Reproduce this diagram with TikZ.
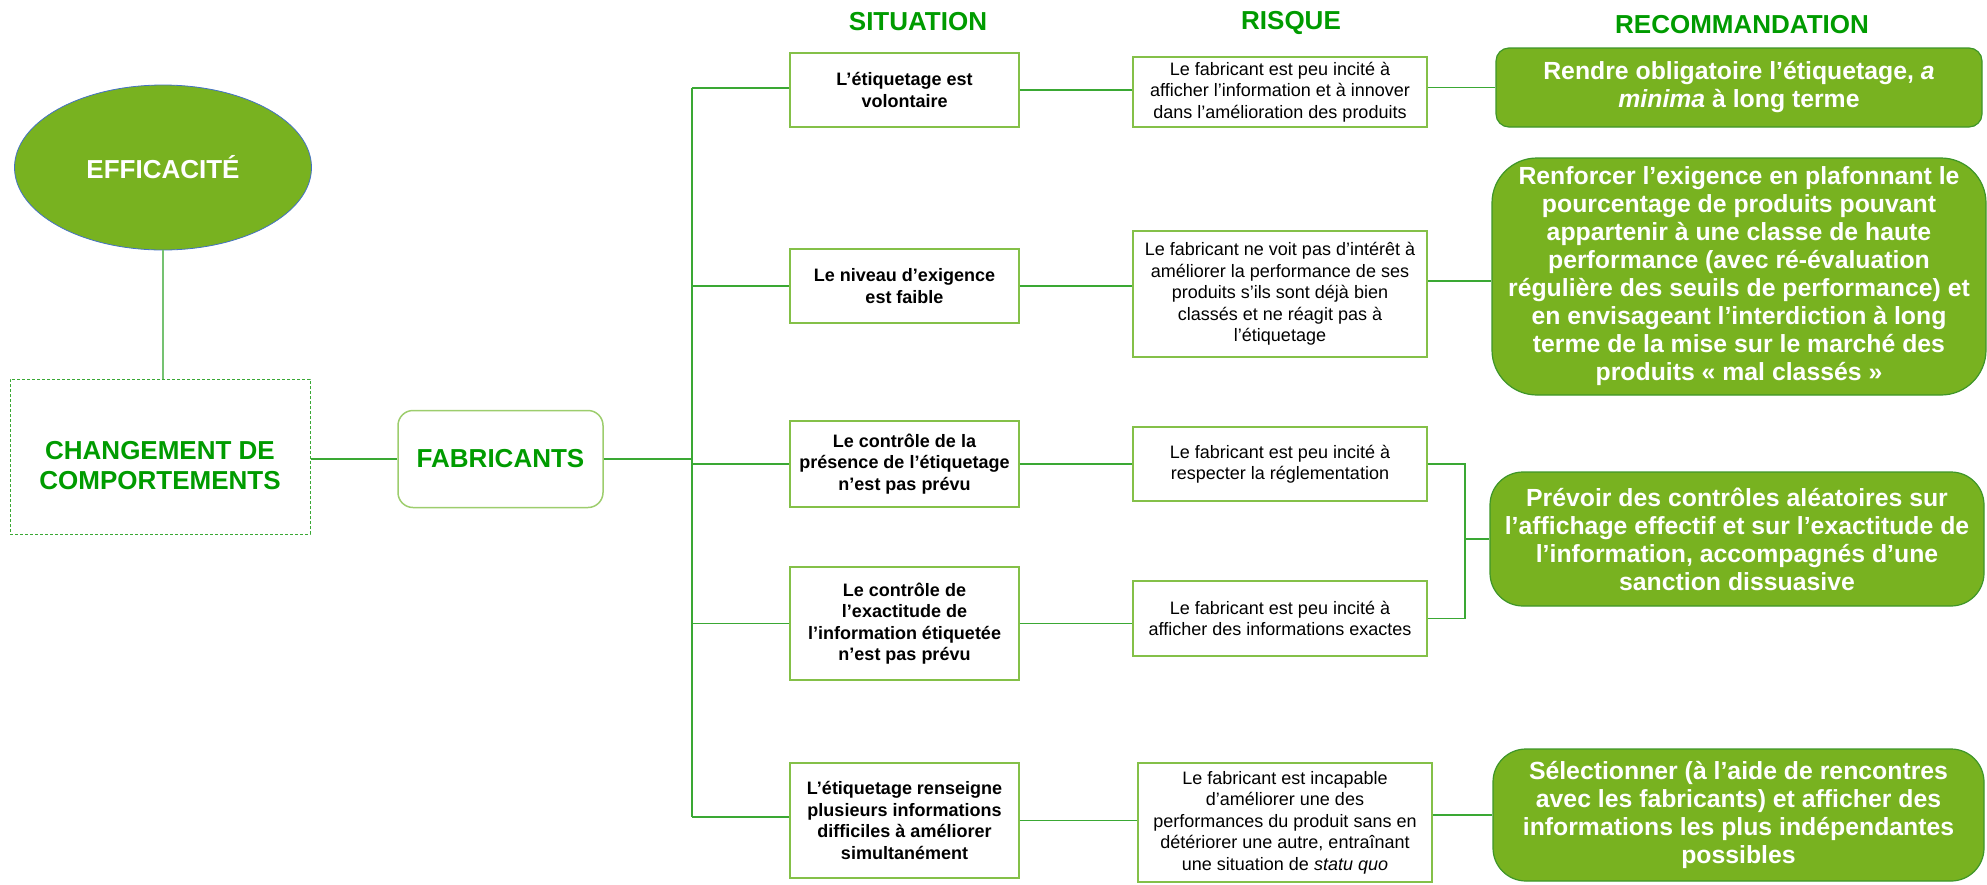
\documentclass[tikz,border=0pt]{standalone}
\usepackage{fontspec}
\setmainfont{Liberation Sans}
\usetikzlibrary{shapes.geometric}

\definecolor{hdrgreen}{RGB}{0,155,0}
\definecolor{recfill}{RGB}{120,178,32}
\definecolor{recline}{RGB}{62,150,40}
\definecolor{boxline}{RGB}{132,192,72}
\definecolor{connline}{RGB}{58,168,52}
\definecolor{ellblue}{RGB}{68,114,196}

\begin{document}
\begin{tikzpicture}[x=1pt,y=-1pt,
  hdr/.style={text=hdrgreen,font=\bfseries\fontsize{26}{30}\selectfont,align=center,inner sep=0},
  sitbox/.style={draw=boxline,line width=1.5pt,fill=white,inner sep=0,align=center,
    minimum width=229,font=\bfseries\fontsize{18}{21.5}\selectfont},
  riskbox/.style={draw=boxline,line width=1.5pt,fill=white,inner sep=0,align=center,
    font=\fontsize{18}{21.5}\selectfont},
  recbox/.style={draw=recline,line width=1.2pt,fill=recfill,inner sep=0,align=center,
    text=white,font=\bfseries\fontsize{24.8}{28}\selectfont},
  conn/.style={draw=connline,line width=1.5pt}
]
\useasboundingbox (0,0) rectangle (1987,884);

% column headers
\node[hdr] (hsit) at (918,22) {SITUATION};
\node[hdr] (hrisk) at (1291,23) {RISQUE};
\node[hdr] (hrec) at (1742,24.5) {RECOMMANDATION};

% left part
\node[ellipse,fill=recfill,draw=ellblue,line width=0.8pt,minimum width=297,minimum height=165,
  inner sep=0,text=white,font=\bfseries\fontsize{26}{30}\selectfont] (eff) at (163,167.5) {EFFICACITÉ};
\node[draw=connline,line width=1pt,dash pattern=on 3pt off 2pt,minimum width=300,minimum height=155,
  inner sep=0] (chg) at (160,456.5) {};
\node[align=center,inner sep=0,text=hdrgreen,font=\bfseries\fontsize{26}{30}\selectfont]
  (chgtxt) at (160,465.5) {CHANGEMENT DE\\COMPORTEMENTS};
\node[draw=boxline!80,line width=1.5pt,rounded corners=15pt,minimum width=205,minimum height=97,
  inner sep=0,text=hdrgreen,font=\bfseries\fontsize{26}{30}\selectfont] (fab) at (500.5,459) {FABRICANTS};

% situations
\node[sitbox,minimum height=74] (sit1) at (904.5,90) {L’étiquetage est\\volontaire};
\node[sitbox,minimum height=74] (sit2) at (904.5,286) {Le niveau d’exigence\\est faible};
\node[sitbox,minimum height=86] (sit3) at (904.5,464) {Le contrôle de la\\présence de l’étiquetage\\n’est pas prévu};
\node[sitbox,minimum height=113] (sit4) at (904.5,623.5) {Le contrôle de\\l’exactitude de\\l’information étiquetée\\n’est pas prévu};
\node[sitbox,minimum height=115] (sit5) at (904.5,820.5) {L’étiquetage renseigne\\plusieurs informations\\difficiles à améliorer\\simultanément};

% risks
\node[riskbox,minimum width=294,minimum height=70] (risk1) at (1280,92)
  {Le fabricant est peu incité à\\afficher l’information et à innover\\dans l’amélioration des produits};
\node[riskbox,minimum width=294,minimum height=126] (risk2) at (1280,294)
  {Le fabricant ne voit pas d’intérêt à\\améliorer la performance de ses\\produits s’ils sont déjà bien\\classés et ne réagit pas à\\l’étiquetage};
\node[riskbox,minimum width=294,minimum height=74] (risk3) at (1280,464)
  {Le fabricant est peu incité à\\respecter la réglementation};
\node[riskbox,minimum width=294,minimum height=75] (risk4) at (1280,618.5)
  {Le fabricant est peu incité à\\afficher des informations exactes};
\node[riskbox,minimum width=294,minimum height=119] (risk5) at (1285,822.5)
  {Le fabricant est incapable\\d’améliorer une des\\performances du produit sans en\\détériorer une autre, entraînant\\une situation de \textit{statu quo}};

% recommendations
\node[recbox,rounded corners=13pt,minimum width=486,minimum height=79] (rec1) at (1739,87.5)
  {Rendre obligatoire l’étiquetage, \textit{a}\\\textit{minima} à long terme};
\node[recbox,rounded corners=45pt,minimum width=494,minimum height=237] (rec2) at (1739,276.5)
  {Renforcer l’exigence en plafonnant le\\pourcentage de produits pouvant\\appartenir à une classe de haute\\performance (avec ré-évaluation\\régulière des seuils de performance) et\\en envisageant l’interdiction à long\\terme de la mise sur le marché des\\produits « mal classés »};
\node[recbox,rounded corners=33pt,minimum width=494,minimum height=134] (rec3) at (1737,539)
  {Prévoir des contrôles aléatoires sur\\l’affichage effectif et sur l’exactitude de\\l’information, accompagnés d’une\\sanction dissuasive};
\node[recbox,rounded corners=33pt,minimum width=491,minimum height=132] (rec4) at (1738.5,815)
  {Sélectionner (à l’aide de rencontres\\avec les fabricants) et afficher des\\informations les plus indépendantes\\possibles};

% tree trunk and joints
\coordinate (trunktop) at (692,88);
\coordinate (trunkbot) at (692,817);
\coordinate (joint) at (1465,541);
\coordinate (r2level) at (0,281);

% connectors
\draw[connline!70,line width=1.5pt] (eff.south) -- (eff.south |- chg.north);
\draw[conn] (fab.west -| chg.east) -- (fab.west);
\draw[conn] (fab.east) -- (fab.east -| trunktop);
\draw[conn] (trunktop) -- (trunkbot);
\draw[conn] (trunktop) -- (trunktop -| sit1.west);
\draw[conn] (sit2.west -| trunktop) -- (sit2.west);
\draw[conn] (sit3.west -| trunktop) -- (sit3.west);
\draw[conn] (sit4.west -| trunktop) -- (sit4.west);
\draw[conn] (trunkbot) -- (trunkbot -| sit5.west);
\draw[conn] (sit1.east) -- (sit1.east -| risk1.west);
\draw[conn] (sit2.east) -- (sit2.east -| risk2.west);
\draw[conn] (sit3.east) -- (sit3.east -| risk3.west);
\draw[conn] (sit4.east) -- (sit4.east -| risk4.west);
\draw[conn] (sit5.east) -- (sit5.east -| risk5.west);
\draw[conn] (risk1.east |- rec1.west) -- (rec1.west);
\draw[conn] (risk2.east |- r2level) -- (rec2.west |- r2level);
\draw[conn] (risk3.east) -| (joint) |- (risk4.east);
\draw[conn] (joint |- rec3.west) -- (rec3.west);
\draw[conn] (risk5.east |- rec4.west) -- (rec4.west);
\end{tikzpicture}
\end{document}
